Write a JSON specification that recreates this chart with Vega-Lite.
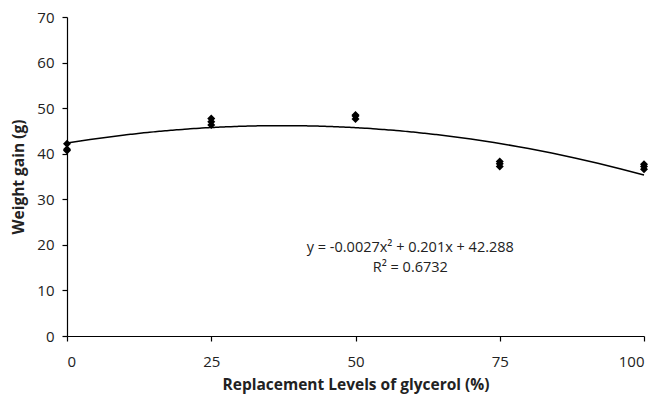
{
  "$schema": "https://vega.github.io/schema/vega-lite/v6.json",
  "width": 577,
  "height": 319,
  "autosize": {"type": "none"},
  "padding": {"left": 67, "top": 17, "right": 27, "bottom": 61},
  "background": "white",
  "config": {
    "view": {"stroke": null},
    "font": "Open Sans",
    "axis": {
      "grid": false,
      "domainColor": "#000000",
      "tickColor": "#000000",
      "domainWidth": 1.2,
      "tickWidth": 1.2,
      "tickSize": 5,
      "labelFont": "Open Sans",
      "labelFontSize": 15,
      "labelColor": "#222222",
      "titleFont": "Open Sans",
      "titleFontSize": 15.5,
      "titleFontWeight": "bold",
      "titleColor": "#222222"
    }
  },
  "data": {
    "values": [
      {"level": 0, "gain": 42.2},
      {"level": 0, "gain": 41.0},
      {"level": 0, "gain": 40.7},
      {"level": 25, "gain": 46.3},
      {"level": 25, "gain": 47.0},
      {"level": 25, "gain": 47.7},
      {"level": 50, "gain": 47.6},
      {"level": 50, "gain": 48.3},
      {"level": 50, "gain": 48.5},
      {"level": 75, "gain": 37.2},
      {"level": 75, "gain": 37.8},
      {"level": 75, "gain": 38.3},
      {"level": 100, "gain": 36.6},
      {"level": 100, "gain": 37.2},
      {"level": 100, "gain": 37.7}
    ]
  },
  "encoding": {
    "x": {
      "field": "level",
      "type": "quantitative",
      "scale": {"domain": [0, 100], "nice": false},
      "axis": {"values": [0, 25, 50, 75, 100], "title": "Replacement Levels of glycerol (%)", "labelPadding": 13, "titlePadding": 8}
    },
    "y": {
      "field": "gain",
      "type": "quantitative",
      "scale": {"domain": [0, 70], "nice": false},
      "axis": {"values": [0, 10, 20, 30, 40, 50, 60, 70], "title": "Weight gain (g)", "labelPadding": 8, "titlePadding": 10}
    }
  },
  "layer": [
    {
      "transform": [
        {"regression": "gain", "on": "level", "method": "poly", "order": 2, "extent": [0, 100]}
      ],
      "mark": {"type": "line", "color": "#000000", "strokeWidth": 1.5, "interpolate": "monotone"}
    },
    {
      "mark": {"type": "point", "shape": "diamond", "filled": true, "color": "#000000", "opacity": 1, "size": 65}
    },
    {
      "data": {"values": [{"label": "y = -0.0027x² + 0.201x + 42.288", "lx": 59.5, "ly": 19.3}, {"label": "R² = 0.6732", "lx": 59.5, "ly": 14.9}]},
      "mark": {"type": "text", "font": "Open Sans", "fontSize": 14.5, "color": "#222222"},
      "encoding": {
        "x": {"field": "lx", "type": "quantitative"},
        "y": {"field": "ly", "type": "quantitative"},
        "text": {"field": "label"}
      }
    }
  ]
}
